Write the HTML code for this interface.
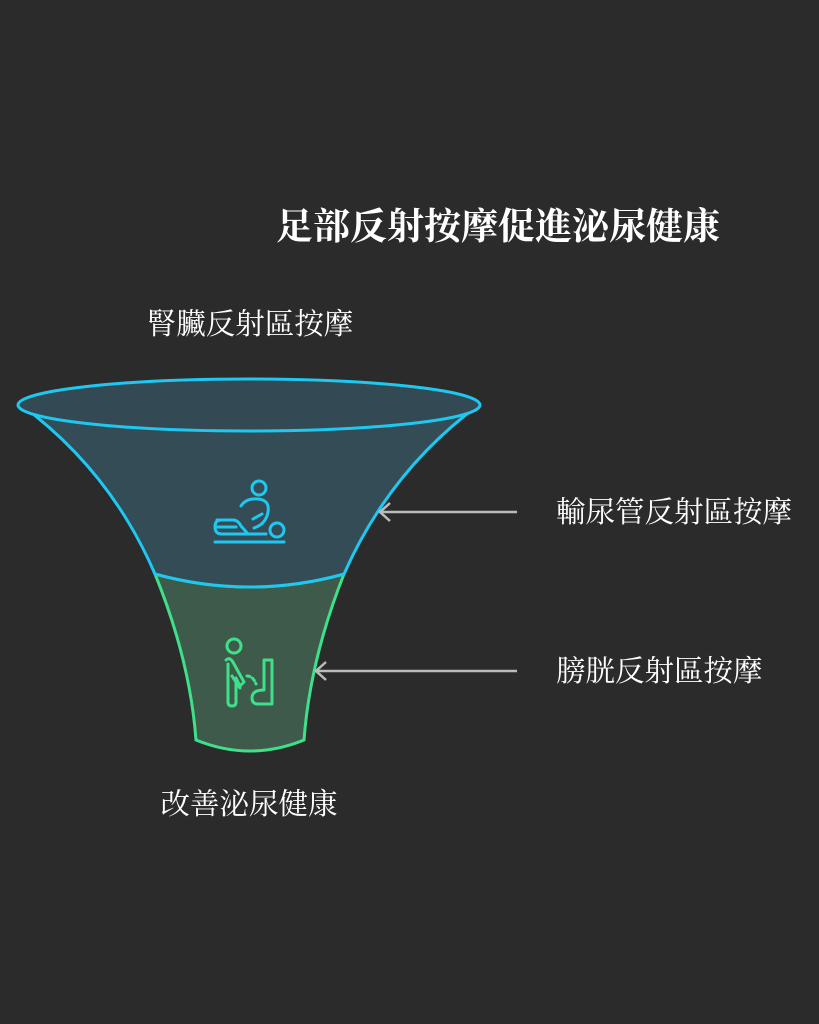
<!DOCTYPE html>
<html><head><meta charset="utf-8"><style>
html,body{margin:0;padding:0;background:#2b2b2b;}
svg{display:block}
text{font-family:"Liberation Serif","Noto Serif CJK SC","Noto Sans CJK TC",serif;fill:#fff}
</style></head><body>
<svg width="819" height="1024" viewBox="0 0 819 1024" xmlns="http://www.w3.org/2000/svg">
<rect width="819" height="1024" fill="#2b2b2b"/>
<text x="498" y="239" font-size="37" font-weight="bold" text-anchor="middle">足部反射按摩促進泌尿健康</text>
<text x="250" y="334" font-size="29.5" text-anchor="middle">腎臟反射區按摩</text>
<text x="556" y="522" font-size="29.5">輸尿管反射區按摩</text>
<text x="556" y="681" font-size="29.5">膀胱反射區按摩</text>
<text x="249" y="814" font-size="29.5" text-anchor="middle">改善泌尿健康</text>
<path d="M155,574 Q250,600 344,574 Q310,660 304,740 Q250,762 196,740 Q190,660 155,574 Z" fill="#3e5a4a" stroke="#3ee08a" stroke-width="3"/>
<path d="M20,404 Q110,470 155,574 Q250,600 344,574 Q390,470 480,404 Q250,440 20,404 Z" fill="#344c56" stroke="#1ec8f0" stroke-width="3"/>
<ellipse cx="249" cy="405" rx="231" ry="26" fill="#334a55" stroke="#1ec8f0" stroke-width="3"/>
<g stroke="#bbb" stroke-width="2.5" fill="none">
<line x1="517" y1="512" x2="380" y2="512"/><polyline points="390,503 380,512 390,521"/>
<line x1="517" y1="671" x2="316" y2="671"/><polyline points="326,662 316,671 326,680"/>
</g>
<g stroke="#1ec8f0" stroke-width="3" fill="none" stroke-linecap="round" stroke-linejoin="round">
<circle cx="259" cy="488" r="7"/>
<path d="M241,506 Q246,498 258,499 Q270,500 268,512 Q266,524 254,528"/>
<path d="M262,514 L253,519"/>
<circle cx="277" cy="530" r="7"/>
<path d="M217,520 L233,520 Q238,520 241,526 L248,534 L266,534"/>
<path d="M221,520 Q215,520 215,527 Q215,534 222,534 L248,534"/>
<path d="M217,527 L236,527"/>
<line x1="215" y1="542" x2="284" y2="542"/>
</g>
<g stroke="#3ee08a" stroke-width="3" fill="none" stroke-linecap="round" stroke-linejoin="round">
<circle cx="234" cy="646" r="7"/>
<path d="M226,660 Q230,656 234,664 L244,682 L240,686 L236,678 L236,702 Q236,706 232,706 Q228,706 228,702 L228,664"/>
<path d="M232,676 L240,688"/>
<path d="M247,676 Q253,676 256,684" stroke-dasharray="3 3"/>
<path d="M264,660 L272,660 L272,704 L258,704 Q252,704 252,698 Q252,690 264,690 Z"/>
</g>
</svg>
</body></html>
